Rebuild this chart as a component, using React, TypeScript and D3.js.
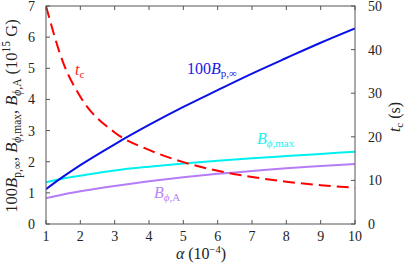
import * as d3 from 'd3';

// alpha (10^-4)
const alpha = [1, 1.5, 2, 3, 4, 5, 6, 7, 8, 9, 10];
// 100 B_p,inf (10^15 G)
const bPinf = [1.12, 1.52, 1.89, 2.56, 3.18, 3.76, 4.3, 4.83, 5.33, 5.82, 6.28];
// B_phi,max (10^15 G)
const bPhiMax = [1.34, 1.46, 1.55, 1.72, 1.84, 1.94, 2.03, 2.11, 2.18, 2.25, 2.32];
// B_phi,A (10^15 G)
const bPhiA = [0.83, 0.95, 1.05, 1.22, 1.37, 1.5, 1.61, 1.7, 1.79, 1.86, 1.93];
// t_c (s)
const tc = [50, 37, 29.2, 21, 17, 14.2, 12.2, 10.8, 9.7, 8.9, 8.3];

const xTicks = [1, 2, 3, 4, 5, 6, 7, 8, 9, 10];
const yLeftTicks = [0, 1, 2, 3, 4, 5, 6, 7];
const yRightTicks = [0, 10, 20, 30, 40, 50];

const W = 407;
const H = 264;
const m = { left: 46, right: 355, top: 6, bottom: 224 };
const font = '"Liberation Serif", "DejaVu Serif", serif';
const axisCol = '#555';

export default function App() {
  const x = d3.scaleLinear().domain([1, 10]).range([m.left, m.right]);
  const yL = d3.scaleLinear().domain([0, 7]).range([m.bottom, m.top]);
  const yR = d3.scaleLinear().domain([0, 50]).range([m.bottom, m.top]);

  const lineL = d3
    .line<number>()
    .x((d, i) => x(alpha[i]))
    .y((d) => yL(d))
    .curve(d3.curveMonotoneX);
  const lineR = d3
    .line<number>()
    .x((d, i) => x(alpha[i]))
    .y((d) => yR(d))
    .curve(d3.curveMonotoneX);

  const tick = 4;

  return (
    <svg
      width={W}
      height={H}
      style={{ position: 'absolute', left: 0, top: 0, background: '#fff' }}
      fontFamily={font}
    >
      <defs>
        <clipPath id='plot'>
          <rect x={m.left} y={m.top} width={m.right - m.left} height={m.bottom - m.top} />
        </clipPath>
      </defs>

      {/* curves */}
      <g clipPath='url(#plot)' fill='none'>
        <path d={lineL(bPhiA) || ''} stroke='#b57cf6' strokeWidth={2} />
        <path d={lineL(bPhiMax) || ''} stroke='#00f0f0' strokeWidth={2} />
        <path d={lineL(bPinf) || ''} stroke='#0a10e8' strokeWidth={2} />
        <path
          d={lineR(tc) || ''}
          stroke='#ff0000'
          strokeWidth={2}
          strokeDasharray='12 6'
        />
      </g>

      {/* frame */}
      <rect
        x={m.left}
        y={m.top}
        width={m.right - m.left}
        height={m.bottom - m.top}
        fill='none'
        stroke={axisCol}
        strokeWidth={1}
      />

      {/* x ticks, bottom and top */}
      {xTicks.map((t) => (
        <g key={'x' + t}>
          <line x1={x(t)} x2={x(t)} y1={m.bottom} y2={m.bottom - tick} stroke={axisCol} />
          <line x1={x(t)} x2={x(t)} y1={m.top} y2={m.top + tick} stroke={axisCol} />
          <text x={x(t)} y={m.bottom + 17} fontSize={14} textAnchor='middle' fill='#222'>
            {t}
          </text>
        </g>
      ))}

      {/* left ticks */}
      {yLeftTicks.map((t) => (
        <g key={'yl' + t}>
          <line x1={m.left} x2={m.left + tick} y1={yL(t)} y2={yL(t)} stroke={axisCol} />
          <text x={m.left - 11} y={yL(t) + 5} fontSize={14} textAnchor='end' fill='#222'>
            {t}
          </text>
        </g>
      ))}

      {/* right ticks */}
      {yRightTicks.map((t) => (
        <g key={'yr' + t}>
          <line x1={m.right} x2={m.right - tick} y1={yR(t)} y2={yR(t)} stroke={axisCol} />
          <text x={m.right + 13} y={yR(t) + 5} fontSize={14} textAnchor='start' fill='#222'>
            {t}
          </text>
        </g>
      ))}

      {/* x axis title */}
      <text x={201} y={259} fontSize={16} textAnchor='middle' fill='#222'>
        <tspan fontStyle='italic'>α</tspan>
        <tspan> (10</tspan>
        <tspan fontSize={10.5} dy={-6}>−4</tspan>
        <tspan dy={6}>)</tspan>
      </text>

      {/* left axis title */}
      <text
        transform='translate(17,116) rotate(-90)'
        fontSize={16.5}
        textAnchor='middle'
        fill='#222'
      >
        <tspan>100</tspan>
        <tspan fontStyle='italic'>B</tspan>
        <tspan fontSize={11.5} dy={4}>p,∞</tspan>
        <tspan dy={-4}>, </tspan>
        <tspan fontStyle='italic'>B</tspan>
        <tspan fontSize={11.5} dy={4}>
          <tspan fontStyle='italic'>ϕ</tspan>,max
        </tspan>
        <tspan dy={-4}>, </tspan>
        <tspan fontStyle='italic'>B</tspan>
        <tspan fontSize={11.5} dy={4}>
          <tspan fontStyle='italic'>ϕ</tspan>,A
        </tspan>
        <tspan dy={-4}> (10</tspan>
        <tspan fontSize={11.5} dy={-7}>15</tspan>
        <tspan dy={7}> G)</tspan>
      </text>

      {/* right axis title */}
      <text
        transform='translate(400,117) rotate(-90)'
        fontSize={16}
        textAnchor='middle'
        fill='#222'
      >
        <tspan fontStyle='italic'>t</tspan>
        <tspan fontSize={11} dy={3}>c</tspan>
        <tspan dy={-3}> (s)</tspan>
      </text>

      {/* curve labels */}
      <text x={75} y={75} fontSize={16} fill='#ff2020'>
        <tspan fontStyle='italic'>t</tspan>
        <tspan fontSize={11} dy={3}>c</tspan>
      </text>
      <text x={187} y={74} fontSize={16} fill='#1818e8'>
        <tspan>100</tspan>
        <tspan fontStyle='italic'>B</tspan>
        <tspan fontSize={11} dy={3}>p,∞</tspan>
      </text>
      <text x={257} y={144} fontSize={16} fill='#20f0f0'>
        <tspan fontStyle='italic'>B</tspan>
        <tspan fontSize={11} dy={3}>
          <tspan fontStyle='italic'>ϕ</tspan>,max
        </tspan>
      </text>
      <text x={154} y={198} fontSize={16} fill='#b884f6'>
        <tspan fontStyle='italic'>B</tspan>
        <tspan fontSize={11} dy={3}>
          <tspan fontStyle='italic'>ϕ</tspan>,A
        </tspan>
      </text>
    </svg>
  );
}
